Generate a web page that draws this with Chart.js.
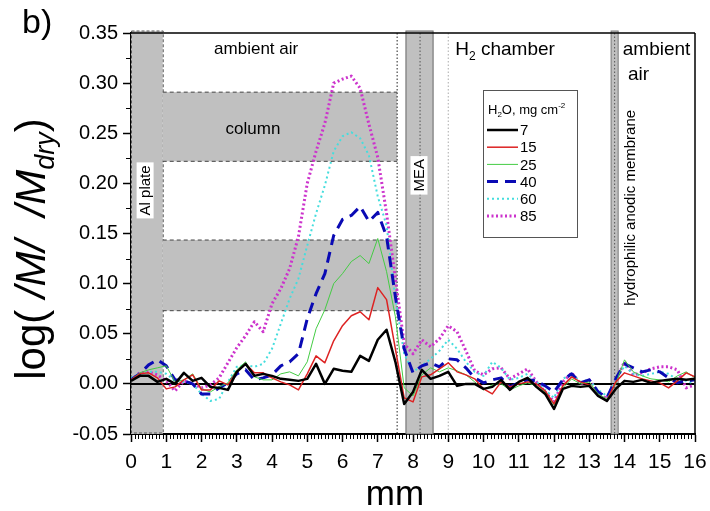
<!DOCTYPE html>
<html>
<head>
<meta charset="utf-8">
<script src="https://cdn.jsdelivr.net/npm/chart.js@4.4.1/dist/chart.umd.min.js"></script>
<style>
  html, body { margin: 0; padding: 0; background: #fff; }
  #wrap { width: 710px; height: 511px; }
</style>
</head>
<body>
<div id="wrap"><canvas id="c"></canvas></div>
<script>
// position along the sample, mm
const xs = [0, 0.25, 0.5, 0.75, 1, 1.25, 1.5, 1.75, 2, 2.25, 2.5, 2.75, 3, 3.25, 3.5, 3.75,
  4, 4.25, 4.5, 4.75, 5, 5.25, 5.5, 5.75, 6, 6.25, 6.5, 6.75, 7, 7.25, 7.5, 7.75,
  8, 8.25, 8.5, 8.75, 9, 9.25, 9.5, 9.75, 10, 10.25, 10.5, 10.75, 11, 11.25, 11.5, 11.75,
  12, 12.25, 12.5, 12.75, 13, 13.25, 13.5, 13.75, 14, 14.25, 14.5, 14.75, 15, 15.25, 15.5, 15.75, 16];

// log(|M|/|Mdry|) for each water loading (mg cm-2)
const h2o7 = [0.003, 0.008, 0.008, 0.002, 0.005, 0.000, 0.011, 0.003, 0.006, -0.003, -0.004, -0.006, 0.012, 0.020, 0.008, 0.010,
  0.008, 0.005, 0.004, 0.003, 0.005, 0.020, 0.000, 0.015, 0.013, 0.012, 0.028, 0.023, 0.044, 0.054, 0.022, -0.020,
  -0.008, 0.014, 0.005, 0.008, 0.012, -0.002, 0.000, 0.000, -0.005, -0.003, 0.004, -0.006, 0.002, 0.006, -0.003, -0.010,
  -0.025, -0.005, -0.002, -0.003, -0.002, -0.012, -0.017, -0.005, 0.003, 0.002, 0.004, 0.001, 0.003, 0.004, 0.005, 0.004, 0.005];
const h2o15 = [0.004, 0.010, 0.011, 0.006, -0.005, -0.003, 0.004, 0.009, -0.006, -0.006, 0.003, -0.001, 0.012, 0.020, 0.011, 0.011,
  0.006, 0.002, -0.001, -0.006, 0.010, 0.028, 0.021, 0.043, 0.058, 0.068, 0.072, 0.064, 0.096, 0.084, 0.035, -0.014,
  -0.018, 0.007, 0.009, 0.015, 0.021, 0.012, 0.009, 0.005, -0.005, -0.010, 0.002, -0.003, 0.000, 0.002, 0.000, -0.007,
  -0.020, -0.002, 0.007, 0.002, -0.001, -0.012, -0.017, 0.002, 0.011, 0.008, 0.005, 0.003, 0.001, -0.004, 0.003, 0.011, 0.007];
const h2o25 = [0.004, 0.011, 0.014, 0.016, 0.018, 0.002, 0.004, 0.010, -0.005, -0.008, -0.003, 0.001, 0.014, 0.022, 0.007, 0.004,
  0.004, 0.010, 0.012, 0.008, 0.022, 0.055, 0.074, 0.100, 0.110, 0.122, 0.128, 0.120, 0.145, 0.112, 0.067, -0.004,
  -0.012, 0.009, 0.016, 0.012, 0.016, 0.013, 0.009, 0.002, -0.006, -0.001, 0.000, -0.006, -0.002, 0.001, -0.002, -0.008,
  -0.021, -0.004, 0.005, 0.000, 0.002, -0.010, -0.015, 0.000, 0.024, 0.012, 0.008, 0.005, 0.004, 0.002, 0.008, 0.012, 0.006];
const h2o40 = [0.004, 0.010, 0.019, 0.024, 0.018, 0.004, 0.003, 0.000, -0.010, -0.010, -0.004, 0.001, 0.010, 0.014, 0.004, 0.006,
  0.009, 0.018, 0.022, 0.030, 0.065, 0.090, 0.110, 0.148, 0.164, 0.168, 0.177, 0.162, 0.171, 0.147, 0.087, 0.035,
  0.011, 0.018, 0.021, 0.017, 0.025, 0.024, 0.016, 0.006, 0.001, 0.004, 0.006, -0.003, 0.001, 0.004, 0.003, -0.002,
  -0.008, 0.004, 0.010, 0.001, 0.004, -0.008, -0.014, 0.005, 0.020, 0.016, 0.012, 0.014, 0.012, 0.006, 0.001, 0.003, 0.004];
const h2o60 = [0.006, 0.010, 0.012, 0.012, 0.010, 0.003, 0.002, 0.000, -0.010, -0.017, -0.015, 0.002, 0.017, 0.019, 0.017, 0.020,
  0.035, 0.060, 0.085, 0.105, 0.138, 0.170, 0.198, 0.232, 0.247, 0.251, 0.245, 0.228, 0.187, 0.158, 0.085, 0.030,
  0.012, 0.018, 0.025, 0.033, 0.044, 0.035, 0.022, 0.012, 0.008, 0.022, 0.016, 0.004, 0.006, 0.010, 0.002, -0.006,
  -0.014, 0.005, 0.010, 0.002, 0.004, -0.006, -0.012, 0.003, 0.018, 0.010, 0.008, 0.010, 0.012, 0.010, 0.004, 0.003, 0.000];
const h2o85 = [0.004, 0.011, 0.012, 0.009, 0.003, -0.007, 0.003, 0.000, -0.004, -0.001, 0.006, 0.021, 0.036, 0.048, 0.062, 0.052,
  0.080, 0.095, 0.115, 0.147, 0.200, 0.232, 0.260, 0.300, 0.304, 0.307, 0.295, 0.259, 0.226, 0.170, 0.105, 0.040,
  0.030, 0.044, 0.037, 0.045, 0.058, 0.052, 0.033, 0.013, 0.009, 0.015, 0.016, 0.005, 0.010, 0.015, 0.002, -0.008,
  -0.018, 0.002, 0.011, 0.000, 0.004, -0.008, -0.015, 0.003, 0.022, 0.009, 0.011, 0.015, 0.017, 0.017, 0.014, -0.004, -0.001];

const seriesLabels = ['7', '15', '25', '40', '60', '85'];
const seriesValues = [h2o7, h2o15, h2o25, h2o40, h2o60, h2o85];
const yTicks = [-0.05, 0.00, 0.05, 0.10, 0.15, 0.20, 0.25, 0.30, 0.35];
const xTicks = [0, 1, 2, 3, 4, 5, 6, 7, 8, 9, 10, 11, 12, 13, 14, 15, 16];

const FONT = '"Liberation Sans", Arial, Helvetica, sans-serif';
const GRAY = '#c0c0c0';

const styles = [
  { color: '#000000', width: 2.5, dash: [] },
  { color: '#dd2222', width: 1.5, dash: [] },
  { color: '#44cc44', width: 1, dash: [] },
  { color: '#0a0ab4', width: 3, dash: [11, 7] },
  { color: '#44dddd', width: 2, dash: [2, 3] },
  { color: '#cc33cc', width: 3, dash: [2, 2.5] }
];

const datasets = seriesValues.map((vals, i) => ({
  label: seriesLabels[i],
  data: xs.map((x, j) => ({ x: x, y: vals[j] })),
  borderColor: styles[i].color,
  borderWidth: styles[i].width,
  borderDash: styles[i].dash,
  borderJoinStyle: 'round',
  pointRadius: 0,
  tension: 0,
  fill: false
}));

// draw a run of text pieces: [text, font, dy]
function rich(ctx, x, y, parts, align) {
  let w = 0;
  parts.forEach((p) => { ctx.font = p[1]; w += ctx.measureText(p[0]).width; });
  let cx = align === 'center' ? x - w / 2 : x;
  parts.forEach((p) => {
    ctx.font = p[1];
    ctx.fillText(p[0], cx, y + (p[2] || 0));
    cx += ctx.measureText(p[0]).width;
  });
}

function vline(ctx, px, top, bottom, color, width, dash) {
  ctx.beginPath();
  ctx.setLineDash(dash);
  ctx.strokeStyle = color;
  ctx.lineWidth = width;
  ctx.moveTo(px, top);
  ctx.lineTo(px, bottom);
  ctx.stroke();
}

function hline(ctx, left, right, py, color, width, dash) {
  ctx.beginPath();
  ctx.setLineDash(dash);
  ctx.strokeStyle = color;
  ctx.lineWidth = width;
  ctx.moveTo(left, py);
  ctx.lineTo(right, py);
  ctx.stroke();
}

const backdrop = {
  id: 'backdrop',
  beforeDatasetsDraw(chart) {
    const { ctx, chartArea: a, scales: { x, y } } = chart;
    const X = (v) => x.getPixelForValue(v);
    const Y = (v) => y.getPixelForValue(v);
    ctx.save();

    // Al plate
    ctx.fillStyle = GRAY;
    ctx.fillRect(X(0), a.top - 2, X(0.9) - X(0), a.bottom - a.top + 2);
    ctx.setLineDash([3, 2]);
    ctx.strokeStyle = '#555';
    ctx.lineWidth = 1;
    ctx.strokeRect(X(0) + 0.5, a.top - 2, X(0.9) - X(0), a.bottom - a.top + 1);

    // column blocks
    [[0.222, 0.291], [0.073, 0.1435]].forEach((b) => {
      ctx.fillStyle = GRAY;
      ctx.fillRect(X(0.9), Y(b[1]), X(7.55) - X(0.9), Y(b[0]) - Y(b[1]));
      hline(ctx, X(0.9), X(7.55), Y(b[1]), '#444', 1, [4, 3]);
      hline(ctx, X(0.9), X(7.55), Y(b[0]), '#444', 1, [4, 3]);
    });
    vline(ctx, X(7.55), a.top, a.bottom, '#222', 1, [1.5, 2]);

    // MEA
    ctx.fillStyle = GRAY;
    ctx.fillRect(X(7.8), a.top - 2, X(8.57) - X(7.8), a.bottom - a.top + 2);
    ctx.setLineDash([]);
    ctx.strokeStyle = '#666';
    ctx.lineWidth = 1;
    ctx.strokeRect(X(7.8), a.top - 2, X(8.57) - X(7.8), a.bottom - a.top + 2);
    vline(ctx, X(8.2), a.top, a.bottom, '#555', 1, [1.5, 2]);
    vline(ctx, X(9.0), a.top, a.bottom, '#aaa', 1, [1.5, 2]);

    // hydrophilic anodic membrane
    ctx.fillStyle = GRAY;
    ctx.fillRect(X(13.62), a.top - 2, X(13.82) - X(13.62), a.bottom - a.top + 2);
    ctx.setLineDash([]);
    ctx.strokeStyle = '#777';
    ctx.strokeRect(X(13.62), a.top - 2, X(13.82) - X(13.62), a.bottom - a.top + 2);
    vline(ctx, X(13.72), a.top, a.bottom, '#555', 1, [1.5, 2]);

    // zero line
    hline(ctx, a.left, a.right, Y(0), '#000', 2, []);

    // region labels
    ctx.fillStyle = '#000';
    ctx.textBaseline = 'alphabetic';
    ctx.textAlign = 'left';
    rich(ctx, X(3.55), Y(0.335) + 6, [['ambient air', '17px ' + FONT]], 'center');
    rich(ctx, X(3.46), Y(0.255) + 6, [['column', '17px ' + FONT]], 'center');
    rich(ctx, X(9.2), Y(0.335) + 7, [['H', '19px ' + FONT], ['2', '12px ' + FONT, 5], [' chamber', '19px ' + FONT]], 'left');
    rich(ctx, X(13.95), Y(0.335) + 7, [['ambient', '19px ' + FONT]], 'left');
    rich(ctx, X(14.1), Y(0.31) + 7, [['air', '19px ' + FONT]], 'left');

    // rotated labels
    const rot = (cx, cy, text, size, boxed) => {
      ctx.save();
      ctx.translate(cx, cy);
      ctx.rotate(-Math.PI / 2);
      ctx.font = size + 'px ' + FONT;
      const w = ctx.measureText(text).width;
      if (boxed) {
        ctx.fillStyle = '#fff';
        ctx.fillRect(-w / 2 - 3, -size / 2 - 1, w + 6, size + 2);
      }
      ctx.fillStyle = '#000';
      ctx.textAlign = 'center';
      ctx.textBaseline = 'middle';
      ctx.fillText(text, 0, 1);
      ctx.restore();
    };
    rot(X(0.4), Y(0.193), 'Al plate', 15, true);
    rot(X(8.17), Y(0.208), 'MEA', 15, true);
    rot(X(14.15), Y(0.1756), 'hydrophilic anodic membrane', 15, false);

    ctx.restore();
  },
  afterDraw(chart) {
    const { ctx, chartArea: a, scales: { x, y } } = chart;
    ctx.save();

    // frame top/right
    hline(ctx, a.left, a.right, a.top, '#000', 1.5, []);
    vline(ctx, a.right, a.top, a.bottom, '#000', 1.5, []);

    // minor ticks
    ctx.setLineDash([]);
    ctx.strokeStyle = '#000';
    ctx.lineWidth = 1;
    ctx.beginPath();
    for (let k = 0; k <= 160; k++) {
      if (k % 10 === 0) continue;
      const px = Math.round(x.getPixelForValue(k / 10)) + 0.5;
      ctx.moveTo(px, a.bottom);
      ctx.lineTo(px, a.bottom + 5);
    }
    for (let k = 0; k < yTicks.length - 1; k++) {
      const py = Math.round(y.getPixelForValue((yTicks[k] + yTicks[k + 1]) / 2)) + 0.5;
      ctx.moveTo(a.left - 5, py);
      ctx.lineTo(a.left, py);
    }
    ctx.stroke();

    // legend
    const lx = 483, ly = 90;
    ctx.fillStyle = '#fff';
    ctx.fillRect(lx, ly, 94, 147);
    ctx.strokeStyle = '#555';
    ctx.lineWidth = 1;
    ctx.strokeRect(lx + 0.5, ly + 0.5, 94, 147);
    ctx.fillStyle = '#000';
    ctx.textBaseline = 'alphabetic';
    ctx.textAlign = 'left';
    rich(ctx, lx + 5, ly + 24, [
      ['H', '13px ' + FONT], ['2', '8px ' + FONT, 3], ['O, mg cm', '13px ' + FONT], ['-2', '8px ' + FONT, -6]
    ], 'left');
    seriesLabels.forEach((lab, i) => {
      const ry = ly + 40 + i * 17.2;
      ctx.beginPath();
      ctx.setLineDash(styles[i].dash);
      ctx.strokeStyle = styles[i].color;
      ctx.lineWidth = styles[i].width;
      ctx.moveTo(lx + 4, ry);
      ctx.lineTo(lx + 35, ry);
      ctx.stroke();
      ctx.fillStyle = '#000';
      ctx.font = '15px ' + FONT;
      ctx.textBaseline = 'middle';
      ctx.fillText(lab, lx + 37, ry + 1);
    });

    // axis titles
    ctx.textBaseline = 'alphabetic';
    ctx.textAlign = 'left';
    ctx.fillStyle = '#000';
    rich(ctx, 22, 33, [['b)', '34px ' + FONT]], 'left');
    rich(ctx, 395, 505, [['mm', '35px ' + FONT]], 'center');
    ctx.save();
    ctx.translate(45, 249);
    ctx.rotate(-Math.PI / 2);
    rich(ctx, 0, 0, [
      ['log( ', '42px ' + FONT],
      ['/M/  /M', 'italic 42px ' + FONT],
      ['dry', 'italic 27px ' + FONT, 9],
      [')', '42px ' + FONT]
    ], 'center');
    ctx.restore();

    ctx.restore();
  }
};

new Chart(document.getElementById('c'), {
  type: 'line',
  data: { datasets: datasets },
  options: {
    responsive: true,
    maintainAspectRatio: false,
    animation: false,
    layout: { padding: { left: 0, right: 15, top: 33, bottom: 0 } },
    plugins: { legend: { display: false }, tooltip: { enabled: false } },
    scales: {
      x: {
        type: 'linear',
        min: 0,
        max: 16,
        afterBuildTicks: (s) => { s.ticks = xTicks.map((v) => ({ value: v })); },
        afterFit: (s) => { s.height = 77; s.paddingLeft = 0; s.paddingRight = 0; },
        ticks: { color: '#000', font: { family: FONT, size: 21 }, padding: 8, maxRotation: 0, autoSkip: false },
        grid: { drawOnChartArea: false, tickLength: 8, tickColor: '#000', tickWidth: 1.5 },
        border: { color: '#000', width: 2 }
      },
      y: {
        type: 'linear',
        min: -0.05,
        max: 0.35,
        afterBuildTicks: (s) => { s.ticks = yTicks.map((v) => ({ value: v })); },
        afterFit: (s) => { s.width = 131; s.paddingTop = 0; s.paddingBottom = 0; },
        ticks: {
          color: '#000', font: { family: FONT, size: 20 }, padding: 5,
          callback: (v) => Number(v).toFixed(2)
        },
        grid: { drawOnChartArea: false, tickLength: 8, tickColor: '#000', tickWidth: 1.5 },
        border: { color: '#000', width: 2 }
      }
    }
  },
  plugins: [backdrop]
});
</script>
</body>
</html>
